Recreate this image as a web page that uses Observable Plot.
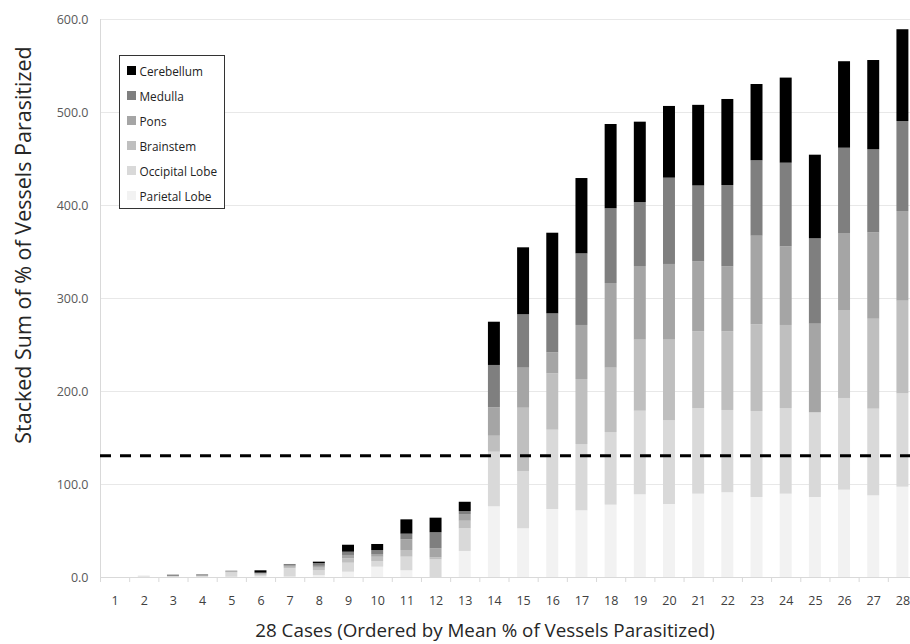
<!DOCTYPE html>
<html><head><meta charset="utf-8">
<script src="https://cdn.jsdelivr.net/npm/d3@7"></script>
<script src="https://cdn.jsdelivr.net/npm/@observablehq/plot@0.6"></script>
<style>
html,body{margin:0;padding:0;background:#fff;overflow:hidden;width:910px;height:644px}
#wrap{position:relative;width:910px;height:644px;overflow:hidden;font-family:"Open Sans",sans-serif}
#wrap svg{position:absolute;left:0;top:0;max-width:none !important;width:925px !important;height:644px !important}
.ytitle{position:absolute;left:22px;top:245px;transform:translate(-50%,-50%) rotate(-90deg);white-space:nowrap;font-size:21.5px;color:#262626}
.xtitle{position:absolute;left:485px;top:630px;transform:translate(-50%,-50%);white-space:nowrap;font-size:18.8px;color:#262626}
.legend{position:absolute;left:119px;top:55px;width:106px;height:154px;border:1.3px solid #333;background:#fff;padding-top:2px;box-sizing:border-box}
.legend .row{display:flex;align-items:center;height:25px;font-size:11.8px;color:#222}
.legend .sw{width:9px;height:9px;margin-left:6.5px;margin-right:4px}
</style></head><body><div id="wrap"></div>
<script>
// Cases 1..28 (x categories)
const cases = d3.range(1, 29);
// Regions stacked bottom -> top
const regions = ["Parietal Lobe", "Occipital Lobe", "Brainstem", "Pons", "Medulla", "Cerebellum"];
const colors = ["#f2f2f2", "#d9d9d9", "#bfbfbf", "#a5a5a5", "#7f7f7f", "#000000"];

const parietal   = [0, 0.5, 0.3, 0.3, 0.3, 0.8, 0.5, 2.0, 5.7, 11.1, 7.2, 0, 28.0, 76.0, 52.4, 73.1, 71.7, 77.8, 88.9, 78.5, 89.6, 91.1, 86.0, 89.6, 86.0, 93.9, 87.8, 97.1];
const occipital  = [0, 0.9, 0.5, 0.6, 4.6, 1.5, 9.0, 5.5, 9.7, 6.1, 14.7, 19.0, 24.4, 58.7, 61.6, 85.3, 71.3, 78.1, 89.9, 90.3, 91.8, 88.5, 92.5, 92.1, 91.1, 98.6, 93.2, 100.4];
const brainstem  = [0, 0, 0, 0, 0.6, 1.2, 1.5, 2.5, 4.7, 4.6, 7.1, 2.2, 8.1, 17.2, 68.0, 60.6, 69.9, 69.2, 76.4, 86.4, 82.8, 84.6, 93.2, 89.3, 0, 94.6, 96.7, 99.6];
const pons       = [0, 0, 0.4, 0.8, 0.6, 0.4, 1.2, 2.0, 3.6, 2.9, 11.5, 9.7, 7.2, 30.6, 43.1, 22.6, 58.1, 91.0, 79.2, 81.4, 75.1, 69.9, 95.3, 84.6, 95.3, 82.8, 92.9, 96.4];
const medulla    = [0, 0, 1.4, 1.2, 0.7, 0.8, 1.8, 3.0, 3.5, 4.3, 6.1, 17.2, 3.2, 45.5, 57.4, 41.9, 77.0, 80.4, 68.8, 92.8, 81.7, 87.4, 81.1, 89.9, 91.8, 91.7, 89.3, 96.8];
const cerebellum = [0, 0, 0, 0, 0, 2.5, 0, 1.5, 7.5, 6.5, 15.4, 15.7, 10.0, 46.5, 72.0, 86.7, 81.0, 90.6, 86.4, 77.1, 86.7, 92.5, 82.0, 91.5, 89.9, 93.0, 96.0, 98.7];

const threshold = 131;
const yTicks = [0, 100, 200, 300, 400, 500, 600];
const xTitle = "28 Cases (Ordered by Mean % of Vessels Parasitized)";
const yTitle = "Stacked Sum of % of Vessels Parasitized";

const series = [parietal, occipital, brainstem, pons, medulla, cerebellum];
const long = [];
regions.forEach((r, k) => cases.forEach((c, i) => long.push({case: c, region: r, value: series[k][i]})));
const bounds = d3.range(0.5, 29, 1);
const half = 0.205;

const chart = Plot.plot({
  width: 925, height: 644,
  marginLeft: 100, marginRight: 8, marginTop: 19, marginBottom: 67,
  x: {domain: [0.5, 28.5], axis: null},
  y: {domain: [0, 600], axis: null},
  color: {domain: regions, range: colors},
  style: {fontFamily: "Open Sans", background: "white", maxWidth: "none"},
  marks: [
    Plot.gridY(yTicks, {stroke: "#e8e8e8", strokeOpacity: 1}),
    Plot.ruleX([0.5], {stroke: "#d9d9d9"}),
    Plot.rect(long, Plot.stackY({x: "case", x1: d => d.case - half, x2: d => d.case + half, y: "value", fill: "region", order: regions})),
    Plot.ruleY([0], {stroke: "#d9d9d9"}),
    Plot.axisX(bounds, {tickSize: 5, tickFormat: () => "", stroke: "#d9d9d9", label: null}),
    Plot.axisX(cases, {tickSize: 0, tickPadding: 19, fontSize: 12.5, fill: "#404040", tickFormat: d => String(d), label: null}),
    Plot.axisY(yTicks, {tickSize: 0, tickPadding: 12, tickFormat: d3.format(".1f"), fontSize: 12.5, fill: "#595959", label: null}),
    Plot.ruleY([threshold], {stroke: "black", strokeWidth: 3, strokeDasharray: "11,9"})
  ]
});

const wrap = document.getElementById("wrap");
wrap.appendChild(chart);

const yt = document.createElement("div"); yt.className = "ytitle"; yt.textContent = yTitle; wrap.appendChild(yt);
const xt = document.createElement("div"); xt.className = "xtitle"; xt.textContent = xTitle; wrap.appendChild(xt);

const lg = document.createElement("div"); lg.className = "legend";
regions.slice().reverse().forEach(r => {
  const row = document.createElement("div"); row.className = "row";
  const sw = document.createElement("span"); sw.className = "sw"; sw.style.background = colors[regions.indexOf(r)];
  const t = document.createElement("span"); t.textContent = r;
  row.appendChild(sw); row.appendChild(t); lg.appendChild(row);
});
wrap.appendChild(lg);
</script></body></html>
